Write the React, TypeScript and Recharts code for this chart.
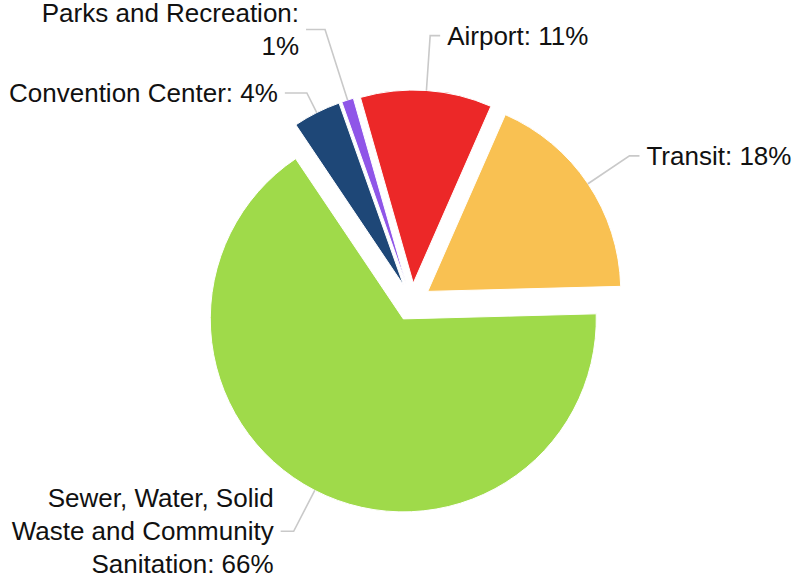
import { PieChart, Pie, Cell, Sector } from "recharts";

// slices in clockwise order, starting at 3 o'clock
const categories = [
  "Sewer, Water, Solid Waste and Community Sanitation",
  "Convention Center",
  "Parks and Recreation",
  "Airport",
  "Transit",
];
const shares = [66, 4, 1, 11, 18];
const colors = ["#9fda4a", "#1e4777", "#8f55e8", "#ec2828", "#f9c152"];

// leader line: radial length out of the slice, then horizontal run
const leaderLen = [46, 22, 74, 55, 50];
const leaderRun = [13, 22, 19, 10, 10];

const EXPLODE = 19;
const RADIUS = 193;
const FONT = "Liberation Sans, Arial, sans-serif";
const FONT_SIZE = 26;
const LINE_H = 33;
const WRAP = 280;

const data = categories.map((name, i) => ({ name, value: shares[i] }));

let ctx: CanvasRenderingContext2D | null = null;
function measure(s: string) {
  if (!ctx) ctx = document.createElement("canvas").getContext("2d");
  if (!ctx) return s.length * FONT_SIZE * 0.5;
  ctx.font = `${FONT_SIZE}px ${FONT}`;
  return ctx.measureText(s).width;
}

function wrap(text: string) {
  const words = text.split(" ");
  const lines: string[] = [];
  let cur = "";
  for (const w of words) {
    const next = cur ? cur + " " + w : w;
    if (cur && measure(next) > WRAP) {
      lines.push(cur);
      cur = w;
    } else cur = next;
  }
  if (cur) lines.push(cur);
  return lines;
}

const RAD = Math.PI / 180;

function ExplodedSlice(props: any) {
  const { cx, cy, midAngle } = props;
  const dx = EXPLODE * Math.cos(-midAngle * RAD);
  const dy = EXPLODE * Math.sin(-midAngle * RAD);
  return <Sector {...props} cx={cx + dx} cy={cy + dy} />;
}

function renderLabel(props: any) {
  const { cx, cy, midAngle, outerRadius, index, name, value } = props;
  const cos = Math.cos(-midAngle * RAD);
  const sin = Math.sin(-midAngle * RAD);
  const ex = cx + EXPLODE * cos;
  const ey = cy + EXPLODE * sin;
  const sx = ex + outerRadius * cos;
  const sy = ey + outerRadius * sin;
  const mx = sx + leaderLen[index] * cos;
  const my = sy + leaderLen[index] * sin;
  const right = cos >= 0;
  const hx = mx + (right ? 1 : -1) * leaderRun[index];
  const tx = hx + (right ? 7 : -7);
  const lines = wrap(`${name}: ${value}%`);
  const y0 = my - ((lines.length - 1) * LINE_H) / 2;
  return (
    <g>
      <polyline
        points={`${sx},${sy} ${mx},${my} ${hx},${my}`}
        fill="none"
        stroke="#c9c9c9"
        strokeWidth={1.6}
      />
      <text
        x={tx}
        y={y0}
        textAnchor={right ? "start" : "end"}
        fontFamily={FONT}
        fontSize={FONT_SIZE}
        fill="#111"
      >
        {lines.map((l, i) => (
          <tspan key={i} x={tx} y={y0 + i * LINE_H} dominantBaseline="central">
            {l}
          </tspan>
        ))}
      </text>
    </g>
  );
}

export default function App() {
  return (
    <div style={{ position: "fixed", left: 0, top: 0, background: "#fff" }}>
      <PieChart width={795} height={579} margin={{ top: 0, right: 0, bottom: 0, left: 0 }}>
        <Pie
          data={data}
          dataKey="value"
          nameKey="name"
          cx={412}
          cy={302}
          outerRadius={RADIUS}
          startAngle={1.5}
          endAngle={-358.5}
          stroke="#fff"
          strokeWidth={1}
          shape={ExplodedSlice}
          label={renderLabel}
          labelLine={false}
          isAnimationActive={false}
        >
          {data.map((d, i) => (
            <Cell key={d.name} fill={colors[i]} />
          ))}
        </Pie>
      </PieChart>
    </div>
  );
}
